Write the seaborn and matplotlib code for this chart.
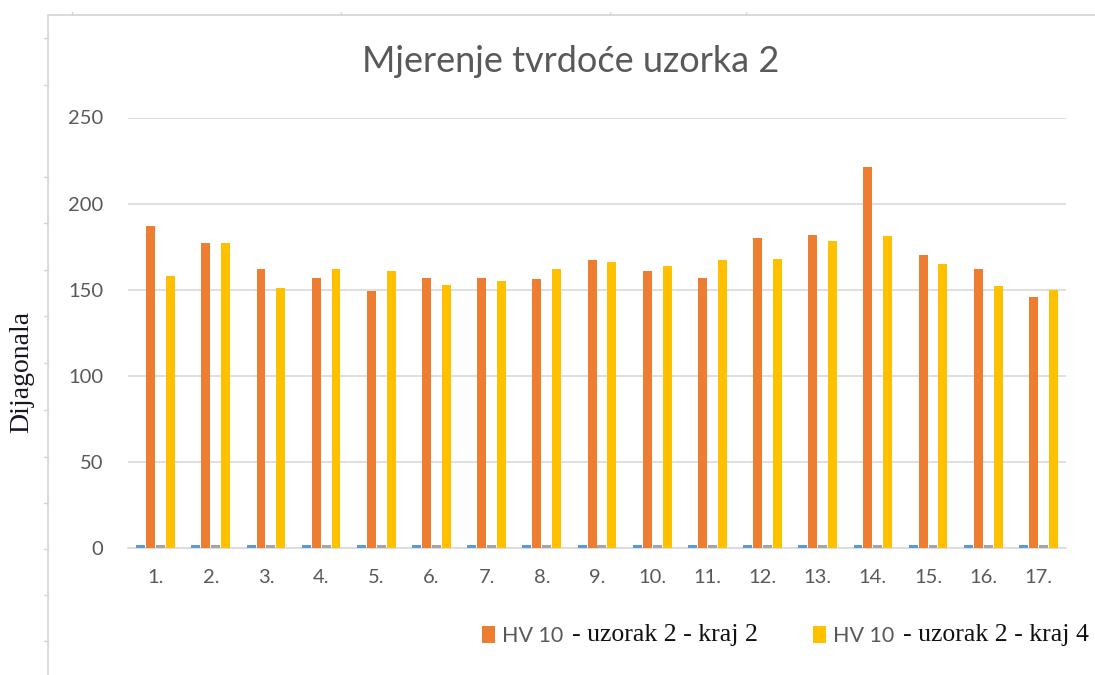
import matplotlib
matplotlib.use("Agg")
import matplotlib.pyplot as plt
from matplotlib.patches import Patch
from matplotlib.lines import Line2D
import numpy as np
import pandas as pd
import seaborn as sns

# Measurement points
categories = ["1.", "2.", "3.", "4.", "5.", "6.", "7.", "8.", "9.",
              "10.", "11.", "12.", "13.", "14.", "15.", "16.", "17."]

# Diagonal readings (tiny values next to the hardness bars)
diag_kraj2 = [1.8, 1.8, 1.8, 1.8, 1.8, 1.8, 1.8, 1.8, 1.8,
              1.8, 1.8, 1.8, 1.8, 1.8, 1.8, 1.8, 1.8]
diag_kraj4 = [1.8, 1.8, 1.8, 1.8, 1.8, 1.8, 1.8, 1.8, 1.8,
              1.8, 1.8, 1.8, 1.8, 1.8, 1.8, 1.8, 1.8]

# HV 10 hardness, sample 2
hv_kraj2 = [187, 177, 162, 157, 149, 157, 157, 156, 167,
            161, 157, 180, 182, 221, 170, 162, 146]
hv_kraj4 = [158, 177, 151, 162, 161, 153, 155, 162, 166,
            164, 167, 168, 178, 181, 165, 152, 150]

series_names = ["d kraj 2", "HV 10 kraj 2", "d kraj 4", "HV 10 kraj 4"]
series_values = [diag_kraj2, hv_kraj2, diag_kraj4, hv_kraj4]
series_colors = ["#5B9BD5", "#ED7D31", "#A5A5A5", "#FFC000"]

y_ticks = [0, 50, 100, 150, 200, 250]

df = pd.DataFrame({
    "tocka": np.tile(categories, len(series_names)),
    "serija": np.repeat(series_names, len(categories)),
    "vrijednost": np.concatenate([np.asarray(v, float) for v in series_values]),
})

sns.set_theme(style="white")
plt.rcParams["font.family"] = ["Lato", "DejaVu Sans"]

W, H = 1095, 675
fig = plt.figure(figsize=(W / 100, H / 100), dpi=100)
ax = fig.add_axes([128 / W, 1 - 548 / H, 938 / W, 430.5 / H])

sns.barplot(data=df, x="tocka", y="vrijednost", hue="serija",
            hue_order=series_names, palette=series_colors,
            order=categories, width=0.72, gap=0.1, legend=False,
            saturation=1, linewidth=0, ax=ax)
for bar in ax.patches:
    bar.set_zorder(3)

ax.set_ylim(0, 250)
ax.set_xlim(-0.5, len(categories) - 0.5)
ax.set_yticks(y_ticks)
ax.yaxis.grid(True, color="#D9D9D9", linewidth=1.2)
ax.set_axisbelow(True)
for side in ("top", "right", "left"):
    ax.spines[side].set_visible(False)
ax.spines["bottom"].set_color("#D9D9D9")
ax.spines["bottom"].set_linewidth(1.2)
ax.spines["bottom"].set_zorder(1)
ax.tick_params(axis="both", length=0, colors="#595959", labelsize=14.5)
ax.tick_params(axis="y", pad=18)
ax.tick_params(axis="x", pad=15)
ax.set_xlabel("")
ax.set_ylabel("")

fig.text(571 / W, 1 - 62 / H, "Mjerenje tvrdoće uzorka 2", ha="center",
         va="center", fontsize=26, color="#595959")

fig.text(22 / W, 1 - 372 / H, "Dijagonala", rotation=90, ha="center",
         va="center", fontsize=20, family="Liberation Serif",
         color="#161628")

# Frame lines around the chart object
frame = "#D4D4D4"
fig.add_artist(Line2D([48 / W, 48 / W], [1 - 15 / H, 0], color=frame,
                      linewidth=1.2))
fig.add_artist(Line2D([48 / W, 1], [1 - 15 / H, 1 - 15 / H], color=frame,
                      linewidth=1.2))
for yy in [38, 85, 177, 223, 270, 316, 363, 410, 457, 503, 549, 595, 641]:
    fig.add_artist(Line2D([44 / W, 48 / W], [1 - yy / H, 1 - yy / H],
                          color=frame, linewidth=1))
for xx in [72, 341, 610, 746]:
    fig.add_artist(Line2D([xx / W, xx / W], [1 - 12 / H, 1 - 15 / H],
                          color=frame, linewidth=1))

# Legend: two entries, each followed by its serif suffix
legend_items = [("HV 10", "#ED7D31", "- uzorak 2 - kraj 2", 482),
                ("HV 10", "#FFC000", "- uzorak 2 - kraj 4", 813)]
legends = []
for label, color, suffix, x0 in legend_items:
    leg = fig.legend(handles=[Patch(facecolor=color, edgecolor="none")],
                     labels=[label], loc="center left",
                     bbox_to_anchor=(x0 / W, 1 - 636 / H), frameon=False,
                     fontsize=15.5, handlelength=0.6, handleheight=0.8,
                     handletextpad=0.35, borderpad=0, borderaxespad=0)
    for t in leg.get_texts():
        t.set_color("#595959")
    legends.append((leg, suffix))

fig.canvas.draw()
renderer = fig.canvas.get_renderer()
for leg, suffix in legends:
    bb = leg.get_texts()[0].get_window_extent(renderer)
    fig.text((bb.x1 + 8) / W, 1 - 635 / H, suffix, ha="left",
             va="center", fontsize=18.5, family="Liberation Serif",
             color="#111111")

fig.savefig("out.png", dpi=100, facecolor="white")
